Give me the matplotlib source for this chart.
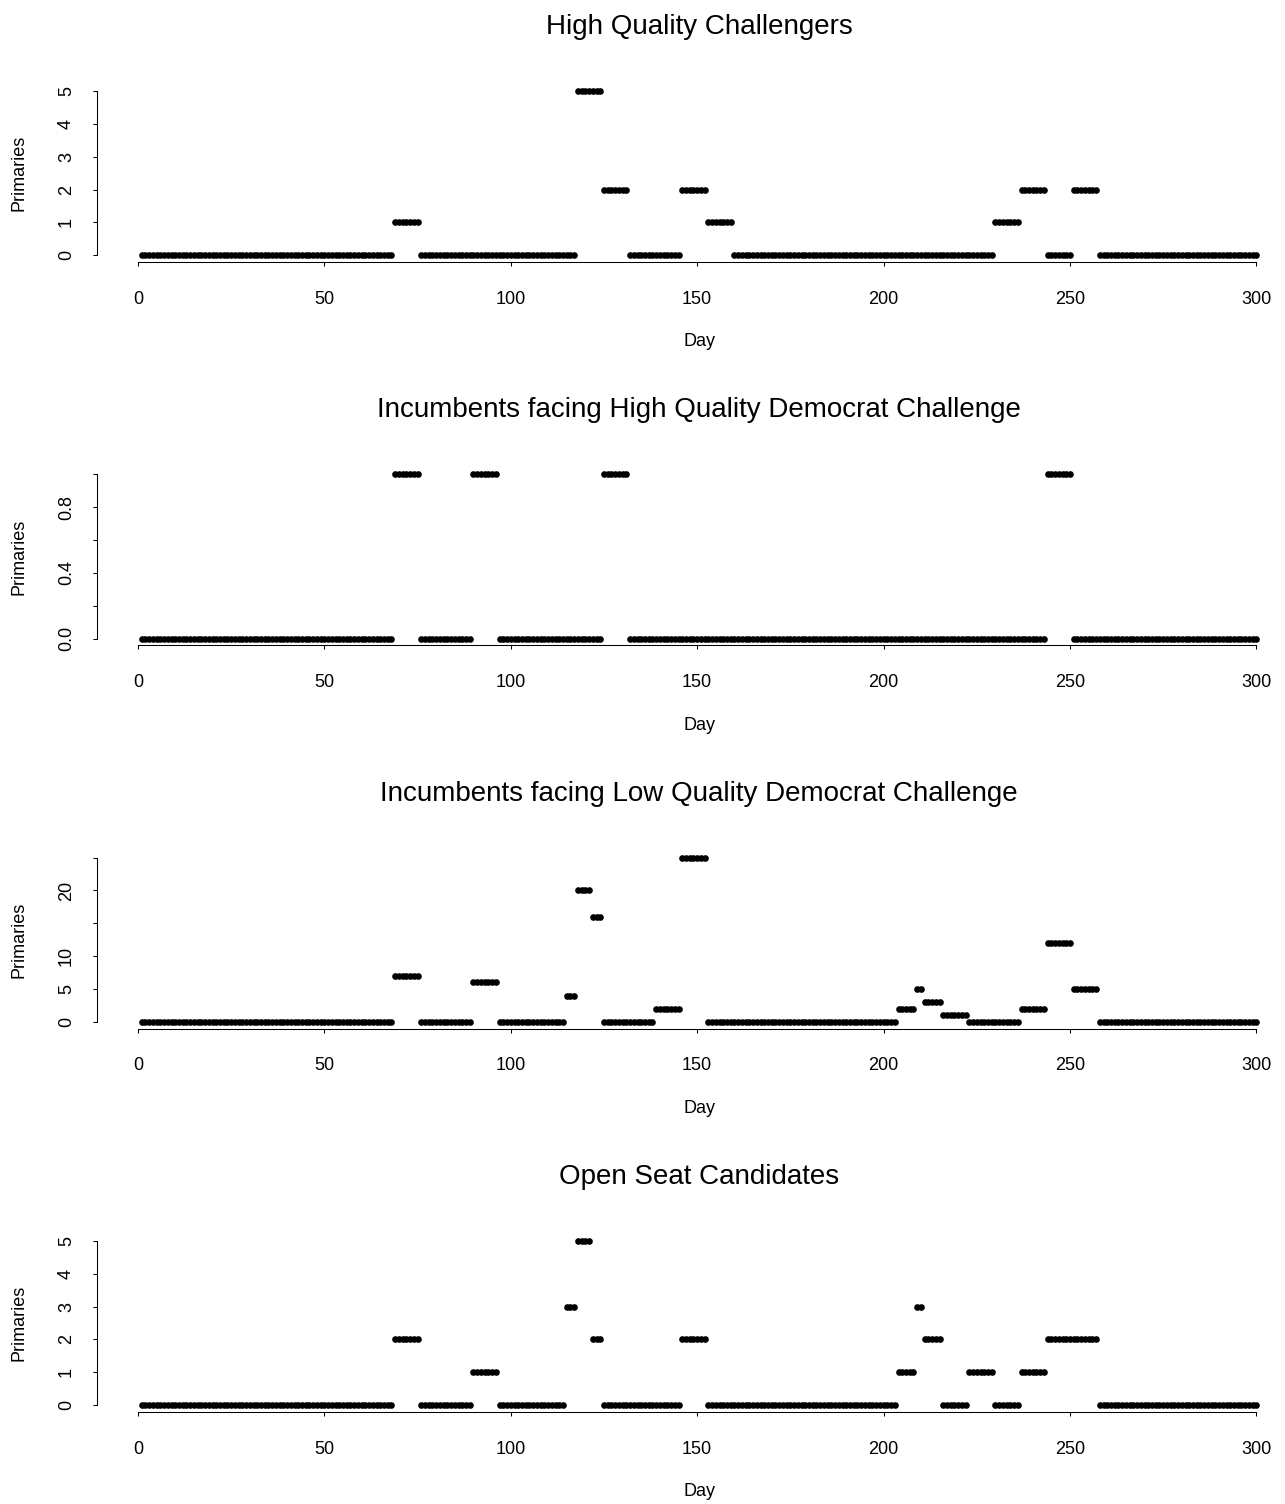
import numpy as np
import matplotlib
matplotlib.use("Agg")
import matplotlib.pyplot as plt

plt.rcParams['font.family'] = ['Liberation Sans', 'DejaVu Sans']

# Days 1..300, weekly step values: first day of each run and its value
last_day = 300

hq_starts = [1, 69, 76, 118, 125, 132, 146, 153, 160, 230, 237, 244, 251, 258]
hq_values = [0, 1, 0, 5, 2, 0, 2, 1, 0, 1, 2, 0, 2, 0]

inc_hq_starts = [1, 69, 76, 90, 97, 125, 132, 244, 251]
inc_hq_values = [0, 1, 0, 1, 0, 1, 0, 1, 0]

inc_lq_starts = [1, 69, 76, 90, 97, 115, 118, 122, 125, 139, 146, 153,
                 204, 209, 211, 216, 223, 237, 244, 251, 258]
inc_lq_values = [0, 7, 0, 6, 0, 4, 20, 16, 0, 2, 25, 0,
                 2, 5, 3, 1, 0, 2, 12, 5, 0]

open_starts = [1, 69, 76, 90, 97, 115, 118, 122, 125, 146, 153,
               204, 209, 211, 216, 223, 230, 237, 244, 258]
open_values = [0, 2, 0, 1, 0, 3, 5, 2, 0, 2, 0,
               1, 3, 2, 0, 1, 0, 1, 2, 0]

titles = ["High Quality Challengers",
          "Incumbents facing High Quality Democrat Challenge",
          "Incumbents facing Low Quality Democrat Challenge",
          "Open Seat Candidates"]

x_ticks = [0, 50, 100, 150, 200, 250, 300]
y_ticks = [[0, 1, 2, 3, 4, 5],
           [0, 0.2, 0.4, 0.6, 0.8, 1.0],
           [0, 5, 10, 15, 20, 25],
           [0, 1, 2, 3, 4, 5]]
y_labels = [["0", "1", "2", "3", "4", "5"],
            ["0.0", "", "0.4", "", "0.8", ""],
            ["0", "5", "10", "", "20", ""],
            ["0", "1", "2", "3", "4", "5"]]

panels = [(hq_starts, hq_values), (inc_hq_starts, inc_hq_values),
          (inc_lq_starts, inc_lq_values), (open_starts, open_values)]


def expand(starts, values):
    # turn run starts into one value per day
    lengths = np.diff(np.array(starts + [last_day + 1]))
    days = np.arange(1, last_day + 1)
    return days, np.repeat(values, lengths)


W, H = 1285, 1504
fig = plt.figure(figsize=(W / 100, H / 100), dpi=100)

left_px, right_px = 97.1, 1301.0
h_px = 177.5
step_px = 383.3

for k, (starts, values) in enumerate(panels):
    b = 261.9 + step_px * k
    ax = fig.add_axes([left_px / W, 1 - b / H, (right_px - left_px) / W, h_px / H])
    days, vals = expand(starts, values)
    ax.plot(days, vals, 'o', color='black', ms=4.8, mew=0)

    ymax = y_ticks[k][-1]
    pad = 0.04 * ymax
    ax.set_xlim(-10.96, 311.96)
    ax.set_ylim(-pad, ymax + pad)

    for s in ['top', 'right']:
        ax.spines[s].set_visible(False)
    ax.spines['left'].set_bounds(0, ymax)
    ax.spines['bottom'].set_bounds(0, 300)
    ax.spines['left'].set_linewidth(0.75)
    ax.spines['bottom'].set_linewidth(0.75)

    ax.set_xticks(x_ticks, [str(t) for t in x_ticks])
    ax.set_yticks(y_ticks[k], y_labels[k], rotation=90, va='center')
    ax.tick_params(axis='x', direction='out', length=2.9, width=0.75,
                   labelsize=13, pad=17.8)
    ax.tick_params(axis='y', direction='out', length=2.9, width=0.75,
                   labelsize=13, pad=13.1)

    ax.set_xlabel("Day", fontsize=13)
    ax.xaxis.label.set_va('center')
    ax.xaxis.set_label_coords(0.5, -(342 - 261.9) / h_px)
    ax.set_ylabel("Primaries", fontsize=13)
    ax.yaxis.label.set_va('center')
    ax.yaxis.set_label_coords((19 - left_px) / (right_px - left_px), 0.5)

    ax.text(0.5, 1 + (261.9 - h_px - 27) / h_px, titles[k],
            transform=ax.transAxes, ha='center', va='center', fontsize=20)

fig.savefig("out.png", dpi=100)
